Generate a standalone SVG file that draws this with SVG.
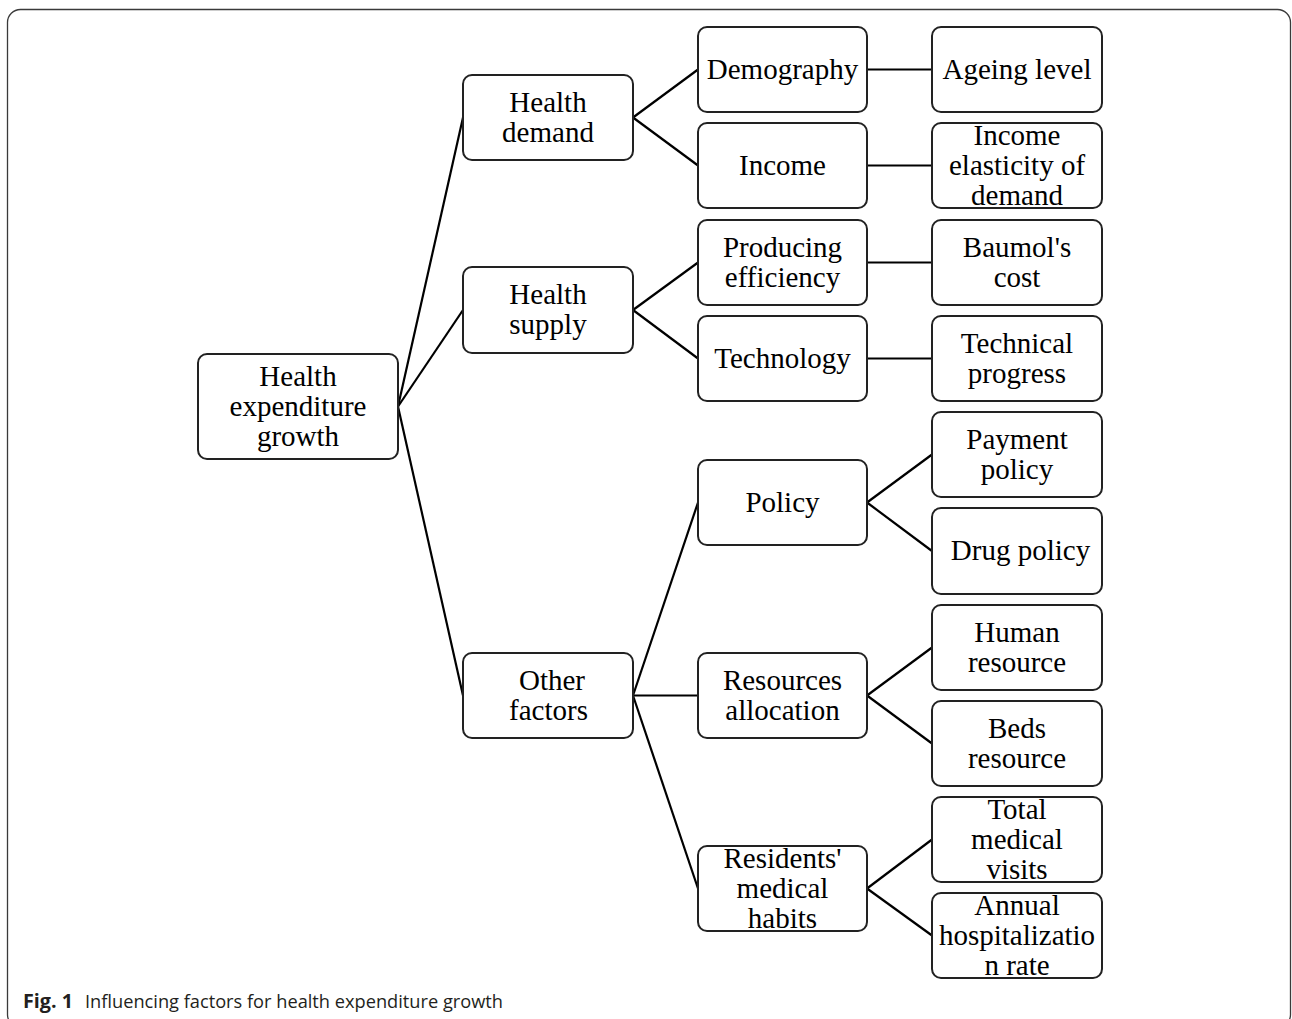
<svg xmlns="http://www.w3.org/2000/svg" width="1292" height="1019" viewBox="0 0 1292 1019">
<style>
.frame{fill:none;stroke:#3a3a3a;stroke-width:1.3}
.box{fill:#fff;stroke:#222;stroke-width:2}
.t{font-family:"Liberation Serif","Times New Roman",serif;font-size:29px;fill:#000;text-anchor:middle}
.c line{stroke:#000;stroke-width:2.2}
.cap{font-family:"Open Sans","Noto Sans","Liberation Sans",sans-serif;font-size:19px;fill:#231f20}
</style>
<rect width="1292" height="1019" fill="#fff"/>
<rect class="frame" x="7.5" y="9.5" width="1283" height="1018" rx="13"/>
<g class="c" id="connectors">
<line x1="398" y1="406.5" x2="463" y2="117.5"/>
<line x1="398" y1="406.5" x2="463" y2="310"/>
<line x1="398" y1="406.5" x2="463" y2="695.5"/>
<line x1="633" y1="117.5" x2="698" y2="69.5"/>
<line x1="633" y1="117.5" x2="698" y2="165.5"/>
<line x1="633" y1="310" x2="698" y2="262.5"/>
<line x1="633" y1="310" x2="698" y2="358.5"/>
<line x1="633" y1="695.5" x2="698" y2="502.5"/>
<line x1="633" y1="695.5" x2="698" y2="695.5"/>
<line x1="633" y1="695.5" x2="698" y2="888.5"/>
<line x1="867" y1="69.5" x2="932" y2="69.5"/>
<line x1="867" y1="165.5" x2="932" y2="165.5"/>
<line x1="867" y1="262.5" x2="932" y2="262.5"/>
<line x1="867" y1="358.5" x2="932" y2="358.5"/>
<line x1="867" y1="502.5" x2="932" y2="454.5"/>
<line x1="867" y1="502.5" x2="932" y2="551"/>
<line x1="867" y1="695.5" x2="932" y2="647.5"/>
<line x1="867" y1="695.5" x2="932" y2="743.5"/>
<line x1="867" y1="888.5" x2="932" y2="839.5"/>
<line x1="867" y1="888.5" x2="932" y2="935.5"/>
</g>
<g id="root"><rect class="box" x="198" y="354" width="200" height="105" rx="9"/>
<text class="t"><tspan x="298" y="385.7">Health</tspan><tspan x="298" y="415.7">expenditure</tspan><tspan x="298" y="445.7">growth</tspan></text></g>
<g id="health-demand"><rect class="box" x="463" y="75" width="170" height="85" rx="9"/>
<text class="t"><tspan x="548" y="111.7">Health</tspan><tspan x="548" y="141.7">demand</tspan></text></g>
<g id="health-supply"><rect class="box" x="463" y="267" width="170" height="86" rx="9"/>
<text class="t"><tspan x="548" y="304.2">Health</tspan><tspan x="548" y="334.2">supply</tspan></text></g>
<g id="other-factors"><rect class="box" x="463" y="653" width="170" height="85" rx="9"/>
<text class="t"><tspan x="552" y="689.7">Other</tspan><tspan x="548.5" y="719.7">factors</tspan></text></g>
<g id="demography"><rect class="box" x="698" y="27" width="169" height="85" rx="9"/>
<text class="t" x="782.5" y="78.7">Demography</text></g>
<g id="income"><rect class="box" x="698" y="123" width="169" height="85" rx="9"/>
<text class="t" x="782.5" y="174.7">Income</text></g>
<g id="producing-efficiency"><rect class="box" x="698" y="220" width="169" height="85" rx="9"/>
<text class="t"><tspan x="782.5" y="256.7">Producing</tspan><tspan x="782.5" y="286.7">efficiency</tspan></text></g>
<g id="technology"><rect class="box" x="698" y="316" width="169" height="85" rx="9"/>
<text class="t" x="782.5" y="367.7">Technology</text></g>
<g id="policy"><rect class="box" x="698" y="460" width="169" height="85" rx="9"/>
<text class="t" x="782.5" y="511.7">Policy</text></g>
<g id="resources-allocation"><rect class="box" x="698" y="653" width="169" height="85" rx="9"/>
<text class="t"><tspan x="782.5" y="689.7">Resources</tspan><tspan x="782.5" y="719.7">allocation</tspan></text></g>
<g id="residents-medical-habits"><rect class="box" x="698" y="846" width="169" height="85" rx="9"/>
<text class="t"><tspan x="782.5" y="867.7">Residents'</tspan><tspan x="782.5" y="897.7">medical</tspan><tspan x="782.5" y="927.7">habits</tspan></text></g>
<g id="ageing-level"><rect class="box" x="932" y="27" width="170" height="85" rx="9"/>
<text class="t" x="1017" y="78.7">Ageing level</text></g>
<g id="income-elasticity"><rect class="box" x="932" y="123" width="170" height="85" rx="9"/>
<text class="t"><tspan x="1017" y="144.7">Income</tspan><tspan x="1017" y="174.7">elasticity of</tspan><tspan x="1017" y="204.7">demand</tspan></text></g>
<g id="baumols-cost"><rect class="box" x="932" y="220" width="170" height="85" rx="9"/>
<text class="t"><tspan x="1017" y="256.7">Baumol's</tspan><tspan x="1017" y="286.7">cost</tspan></text></g>
<g id="technical-progress"><rect class="box" x="932" y="316" width="170" height="85" rx="9"/>
<text class="t"><tspan x="1017" y="352.7">Technical</tspan><tspan x="1017" y="382.7">progress</tspan></text></g>
<g id="payment-policy"><rect class="box" x="932" y="412" width="170" height="85" rx="9"/>
<text class="t"><tspan x="1017" y="448.7">Payment</tspan><tspan x="1017" y="478.7">policy</tspan></text></g>
<g id="drug-policy"><rect class="box" x="932" y="508" width="170" height="86" rx="9"/>
<text class="t" x="1020.5" y="560.2">Drug policy</text></g>
<g id="human-resource"><rect class="box" x="932" y="605" width="170" height="85" rx="9"/>
<text class="t"><tspan x="1017" y="641.7">Human</tspan><tspan x="1017" y="671.7">resource</tspan></text></g>
<g id="beds-resource"><rect class="box" x="932" y="701" width="170" height="85" rx="9"/>
<text class="t"><tspan x="1017" y="737.7">Beds</tspan><tspan x="1017" y="767.7">resource</tspan></text></g>
<g id="total-medical-visits"><rect class="box" x="932" y="797" width="170" height="85" rx="9"/>
<text class="t"><tspan x="1017" y="818.7">Total</tspan><tspan x="1017" y="848.7">medical</tspan><tspan x="1017" y="878.7">visits</tspan></text></g>
<g id="annual-hospitalization-rate"><rect class="box" x="932" y="893" width="170" height="85" rx="9"/>
<text class="t"><tspan x="1017" y="914.7">Annual</tspan><tspan x="1017" y="944.7">hospitalizatio</tspan><tspan x="1017" y="974.7">n rate</tspan></text></g>
<g id="caption"><text class="cap" x="23" y="1008"><tspan font-weight="bold" textLength="50" lengthAdjust="spacingAndGlyphs">Fig. 1</tspan></text>
<text class="cap" x="85" y="1008" textLength="418" lengthAdjust="spacingAndGlyphs">Influencing factors for health expenditure growth</text></g>
</svg>
